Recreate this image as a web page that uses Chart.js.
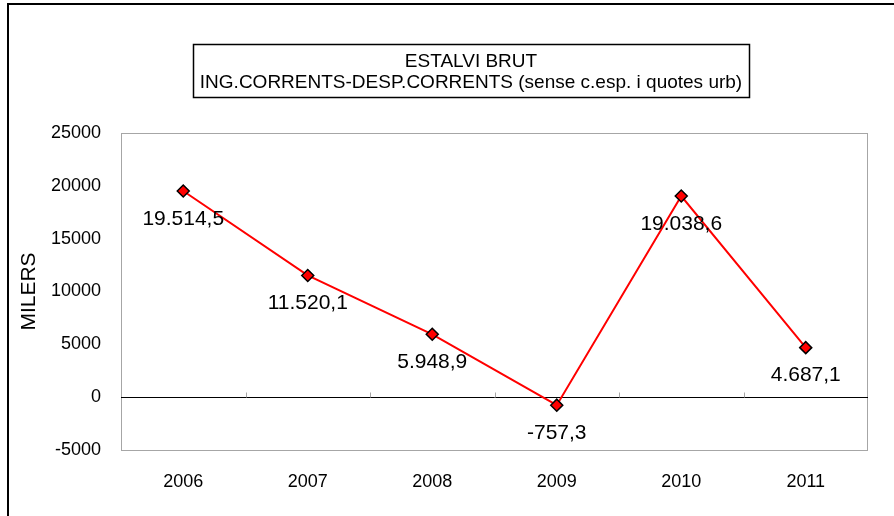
<!DOCTYPE html>
<html>
<head>
<meta charset="utf-8">
<script src="https://cdn.jsdelivr.net/npm/chart.js@4/dist/chart.umd.min.js"></script>
<style>
  body { margin: 0; background: #fff; }
  canvas { display: block; }
</style>
</head>
<body>
<canvas id="chart" width="894" height="516"></canvas>
<script>
document.addEventListener("DOMContentLoaded", () => {
    const ctx = document.getElementById("chart").getContext("2d");

    // Dades del gràfic
    const years = ["2006", "2007", "2008", "2009", "2010", "2011"];
    const estalviBrut = [19514.5, 11520.1, 5948.9, -757.3, 19038.6, 4687.1];
    const valueLabels = ["19.514,5", "11.520,1", "5.948,9", "-757,3", "19.038,6", "4.687,1"];
    const titleLines = ["ESTALVI BRUT", "ING.CORRENTS-DESP.CORRENTS (sense c.esp. i quotes urb)"];
    const yMin = -5000, yMax = 25000, yStep = 5000;

    const FONT = "'Liberation Sans', Arial, sans-serif";

    // Marc exterior, vora de l'àrea del gràfic i marques sobre la línia de zero
    const framePlugin = {
        id: "frame",
        beforeDraw(chart) {
            const c = chart.ctx;
            const a = chart.chartArea;
            c.save();
            c.fillStyle = "#fff";
            c.fillRect(0, 0, chart.width, chart.height);
            c.strokeStyle = "#000";
            c.lineWidth = 2;
            c.beginPath();
            c.moveTo(8, chart.height);
            c.lineTo(8, 4);
            c.lineTo(chart.width, 4);
            c.stroke();
            c.strokeStyle = "#a6a6a6";
            c.lineWidth = 1;
            c.strokeRect(a.left + 0.5, a.top + 0.5, a.right - a.left - 1, a.bottom - a.top);
            c.restore();
        },
        beforeDatasetsDraw(chart) {
            const c = chart.ctx;
            const xs = chart.scales.x;
            const y0 = Math.round(chart.scales.y.getPixelForValue(0)) + 0.5;
            c.save();
            c.strokeStyle = "#a6a6a6";
            c.lineWidth = 1;
            for (let i = 1; i < years.length; i++) {
                const x = Math.round((xs.getPixelForValue(i - 1) + xs.getPixelForValue(i)) / 2) + 0.5;
                c.beginPath();
                c.moveTo(x, y0 - 5);
                c.lineTo(x, y0);
                c.stroke();
            }
            c.restore();
        },
    };

    // Títol dins d'una caixa
    const titleBoxPlugin = {
        id: "titleBox",
        afterDraw(chart) {
            const c = chart.ctx;
            const cx = 471;
            c.save();
            c.font = "19px " + FONT;
            c.fillStyle = "#000";
            c.textAlign = "center";
            c.textBaseline = "middle";
            titleLines.forEach((t, i) => c.fillText(t, cx, 62 + i * 21));
            const w = Math.max(...titleLines.map((t) => c.measureText(t).width)) + 14;
            c.strokeStyle = "#000";
            c.lineWidth = 1.5;
            c.strokeRect(Math.round(cx - w / 2) + 0.5, 44.5, Math.round(w), 53);
            c.restore();
        },
    };

    // Etiquetes de valor sota cada punt
    const labelsPlugin = {
        id: "valueLabels",
        afterDatasetsDraw(chart) {
            const c = chart.ctx;
            const meta = chart.getDatasetMeta(0);
            c.save();
            c.font = "21px " + FONT;
            c.fillStyle = "#000";
            c.textAlign = "center";
            c.textBaseline = "middle";
            meta.data.forEach((pt, i) => {
                c.fillText(valueLabels[i], pt.x, pt.y + 28);
            });
            c.restore();
        },
    };

    new Chart(ctx, {
        type: "line",
        data: {
            labels: years,
            datasets: [
                {
                    label: "Estalvi brut",
                    data: estalviBrut,
                    borderColor: "#ff0000",
                    borderWidth: 2,
                    backgroundColor: "#ff0000",
                    pointStyle: "rectRot",
                    pointRadius: 6,
                    pointBackgroundColor: "#ff0000",
                    pointBorderColor: "#000",
                    pointBorderWidth: 1.5,
                    tension: 0,
                },
            ],
        },
        options: {
            responsive: false,
            animation: false,
            layout: { padding: { left: 0, right: 26, top: 133, bottom: 0 } },
            plugins: {
                legend: { display: false },
                tooltip: { enabled: false },
            },
            scales: {
                x: {
                    offset: true,
                    grid: { display: false, drawTicks: false },
                    border: { display: false },
                    ticks: { color: "#000", font: { family: FONT, size: 18 }, padding: 21 },
                    afterFit: (scale) => { scale.height = 66; },
                },
                y: {
                    min: yMin,
                    max: yMax,
                    grid: {
                        drawTicks: false,
                        color: (c) => (c.tick && c.tick.value === 0 ? "#000" : "rgba(0,0,0,0)"),
                        lineWidth: 1,
                    },
                    border: { display: false },
                    ticks: {
                        stepSize: yStep,
                        color: "#000",
                        font: { family: FONT, size: 18 },
                        padding: 20,
                        callback: (v) => String(v),
                    },
                    title: {
                        display: true,
                        text: "MILERS",
                        color: "#000",
                        font: { family: FONT, size: 21 },
                        padding: { top: 17, bottom: 0 },
                    },
                    afterFit: (scale) => { scale.width = 121; },
                },
            },
        },
        plugins: [framePlugin, titleBoxPlugin, labelsPlugin],
    });
});
</script>
</body>
</html>
